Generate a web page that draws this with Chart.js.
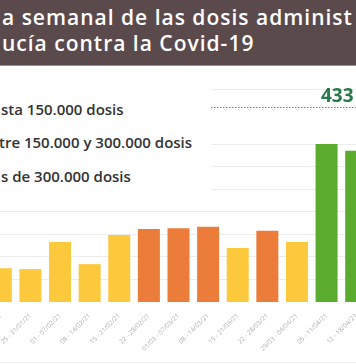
<!DOCTYPE html>
<html><head><meta charset="utf-8">
<script src="https://cdn.jsdelivr.net/npm/chart.js@4"></script>
<style>
html,body{margin:0;padding:0;background:#fff;width:356px;height:364px;overflow:hidden;position:relative;font-family:"Open Sans",sans-serif;}
#title{position:absolute;left:0;top:0;width:356px;height:65px;background:#5b4a4b;border-bottom:1px solid #9a9091;overflow:hidden;}
.tl{position:absolute;left:2px;color:#fff;font-weight:600;font-size:21px;letter-spacing:1px;white-space:nowrap;line-height:1;}
#wrap{position:absolute;left:-14px;top:66px;width:385px;height:298px;}
#legend{position:absolute;left:0;top:80px;width:211px;height:120px;background:#fff;}
.lg{position:absolute;left:1px;font-weight:600;font-size:15px;color:#333;white-space:nowrap;line-height:1;}
#foot{position:absolute;left:0;top:362px;width:356px;height:1px;background:#eee;}
</style></head>
<body>
<div id="wrap"><canvas id="c" width="385" height="298"></canvas></div>
<div id="title">
  <div class="tl" style="top:7px">a semanal de las dosis administ</div>
  <div class="tl" style="top:33px">ucía contra la Covid-19</div>
</div>
<div id="legend">
  <div class="lg" style="top:22px">sta 150.000 dosis</div>
  <div class="lg" style="top:55px;left:-1px">tre 150.000 y 300.000 dosis</div>
  <div class="lg" style="top:89px">s de 300.000 dosis</div>
</div>
<div id="foot"></div>
<script>
const categories = ["18 - 24/01/21","25 - 31/01/21","01 - 07/02/21","08 - 14/02/21","15 - 21/02/21","22 - 28/02/21","01/03 - 07/03/21","08 - 14/03/21","15 - 21/03/21","22 - 28/03/21","29/03 - 04/04/21","05 - 11/04/21","12 - 18/04/21"];
const values = [75000, 73000, 133000, 84000, 149000, 162000, 164000, 167000, 120000, 158000, 133000, 351000, 336000];
const thresholds = [150000, 300000];
const maxValue = 433000;
const maxLabel = "433";
const yTicks = [50000, 100000, 150000, 200000, 250000, 300000, 350000, 473000];

function colorFor(v){
  if (v <= thresholds[0]) return '#fcc83c';
  if (v <= thresholds[1]) return '#ec7c3a';
  return '#5aab2e';
}

const maxLine = {
  id:'maxLine',
  afterDraw(chart){
    const {ctx, scales:{y}} = chart;
    const py = Math.round(y.getPixelForValue(maxValue)) + 0.5;
    ctx.save();
    ctx.strokeStyle = '#777';
    ctx.lineWidth = 1;
    ctx.setLineDash([1.5,1.5]);
    ctx.beginPath();
    ctx.moveTo(0, py);
    ctx.lineTo(chart.width, py);
    ctx.stroke();
    ctx.setLineDash([]);
    ctx.fillStyle = '#26784a';
    ctx.font = 'bold 19px "Open Sans"';
    ctx.textBaseline = 'alphabetic';
    ctx.textAlign = 'left';
    ctx.fillText(maxLabel, 335, py - 6);
    ctx.restore();
  }
};

new Chart(document.getElementById('c'), {
  type:'bar',
  data:{labels:categories, datasets:[{data:values, backgroundColor:values.map(colorFor), barPercentage:0.743, categoryPercentage:1}]},
  options:{
    responsive:false,
    devicePixelRatio:1,
    animation:false,
    layout:{padding:{top:23,left:0,right:0,bottom:0}, autoPadding:false},
    plugins:{legend:{display:false}, tooltip:{enabled:false}},
    scales:{
      x:{
        grid:{display:false}, border:{display:false},
        ticks:{autoSkip:false, minRotation:45, maxRotation:45, color:'#b0b0b0', font:{size:6.5, family:'Open Sans'}, padding:2},
        afterFit:s=>{s.height=62; s.paddingLeft=0; s.paddingRight=0;}
      },
      y:{
        min:0, max:473000,
        grid:{color:'#ececec', drawTicks:false}, border:{display:false},
        ticks:{display:false},
        afterFit:s=>{s.width=0;},
        afterBuildTicks:s=>{s.ticks = yTicks.map(v=>({value:v}));}
      }
    }
  },
  plugins:[maxLine]
});
</script>
</body></html>
